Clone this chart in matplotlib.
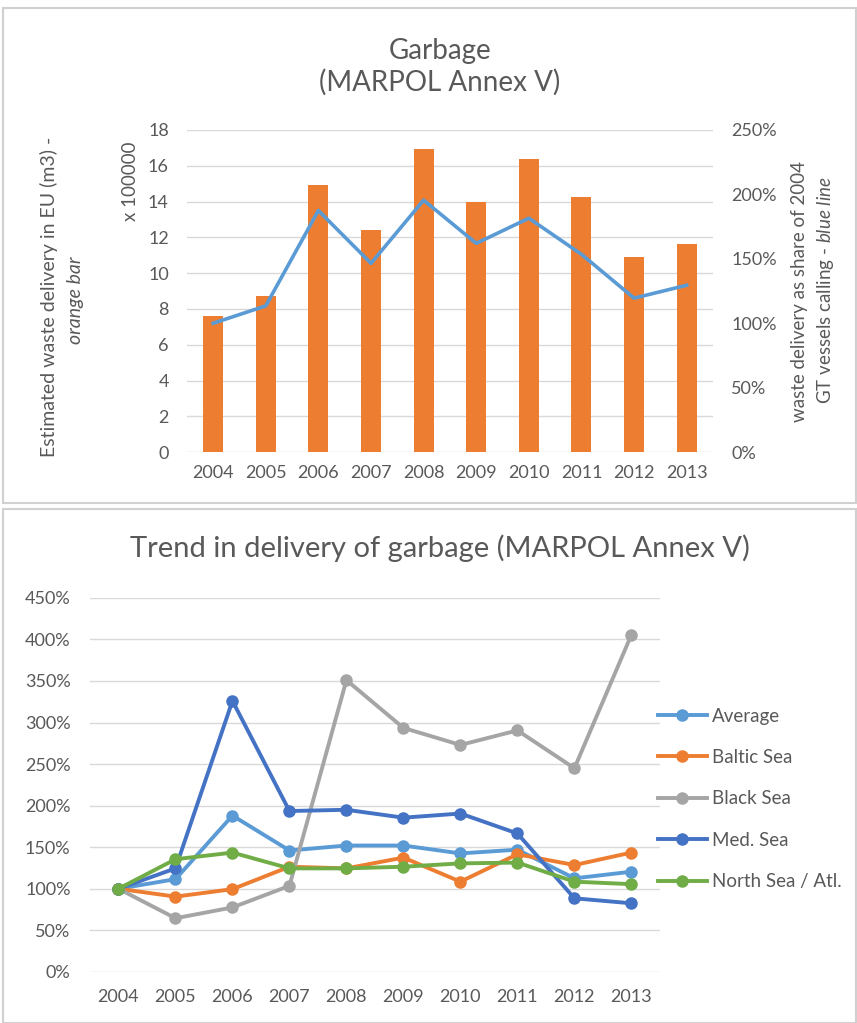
import matplotlib.pyplot as plt
from matplotlib.patches import Rectangle
import numpy as np

plt.rcParams['font.family'] = ['Lato', 'DejaVu Sans']
plt.rcParams['mathtext.fontset'] = 'custom'
plt.rcParams['mathtext.rm'] = 'Lato'
plt.rcParams['mathtext.it'] = 'Lato:italic'

years = ['2004', '2005', '2006', '2007', '2008', '2009', '2010', '2011', '2012', '2013']

# top chart: delivery (x 100000 m3) and share of 2004 per GT calling
delivery = [7.6, 8.7, 14.95, 12.4, 16.95, 14.0, 16.35, 14.25, 10.9, 11.6]
share_gt = [100, 113.5, 187.5, 146.5, 195.5, 162, 181.5, 153.5, 119.5, 129.5]

# bottom chart: trend per sea region (% of 2004)
average = [100, 111.5, 188, 146, 152, 152, 142.5, 147, 112.5, 120.5]
baltic = [100, 90.5, 99.5, 126.5, 124.5, 137.5, 108.5, 141.5, 128.5, 143.5]
black = [100, 64.5, 77.5, 103.5, 351, 293.5, 273, 290.5, 245, 405.5]
med = [100, 124.5, 326, 193.5, 195, 185.5, 190.5, 166.5, 88.5, 82.5]
north = [100, 135.5, 143.5, 124.5, 124.5, 126.5, 130.5, 131.5, 108.5, 105.5]

orange = '#ED7D31'
blue = '#5B9BD5'
gray = '#A5A5A5'
dblue = '#4472C4'
green = '#70AD47'
txt = '#595959'
grid = '#D9D9D9'

W, H = 857, 1023
fig = plt.figure(figsize=(8.57, 10.23), dpi=100)

def fx(px):
    return px / W

def fy(py):
    return 1 - py / H

# panel borders
fig.patches.append(Rectangle((fx(3), fy(503)), fx(853), 495/H, transform=fig.transFigure,
                             fill=False, edgecolor='#D0D0D0', lw=1.5))
fig.patches.append(Rectangle((fx(3), 0.0), fx(853), fy(509), transform=fig.transFigure,
                             fill=False, edgecolor='#D0D0D0', lw=1.5))

x = np.arange(len(years))

# ---- top chart ----
ax1 = fig.add_axes([0.218, 0.558, 0.614, 0.315])
ax1.bar(x, delivery, width=0.38, color=orange, zorder=2)
ax1.set_ylim(0, 18)
ax1.set_yticks(range(0, 19, 2))
ax1.set_xlim(-0.5, 9.5)
ax1.set_xticks(x)
ax1.set_xticklabels(years)
ax1.yaxis.grid(True, color=grid, lw=1)
ax1.set_axisbelow(True)

ax2 = ax1.twinx()
ax2.plot(x, share_gt, color=blue, lw=2.6, zorder=3)
ax2.set_ylim(0, 250)
ax2.set_yticks(range(0, 251, 50))
ax2.set_yticklabels(['{}%'.format(v) for v in range(0, 251, 50)])

for a in (ax1, ax2):
    for s in a.spines.values():
        s.set_visible(False)
    a.tick_params(length=0, colors=txt, labelsize=13)
ax1.tick_params(axis='x', pad=9)
ax1.tick_params(axis='y', pad=13)
ax2.tick_params(axis='y', pad=13)

fig.text(fx(440), fy(67), 'Garbage\n(MARPOL Annex V)', ha='center', va='center',
         fontsize=20, color=txt, linespacing=1.25)
fig.text(fx(49), fy(297), 'Estimated waste delivery in EU (m3) -', rotation=90,
         ha='center', va='center', fontsize=14, color=txt)
fig.text(fx(75), fy(300), 'orange bar', rotation=90, style='italic',
         ha='center', va='center', fontsize=14, color=txt)
fig.text(fx(130), fy(181), 'x 100000', rotation=90,
         ha='center', va='center', fontsize=13.5, color=txt)
fig.text(fx(800), fy(292), 'waste delivery as share of 2004', rotation=90,
         ha='center', va='center', fontsize=13.5, color=txt)
fig.text(fx(826), fy(290), r'GT vessels calling - $\mathit{blue\ line}$', rotation=90,
         ha='center', va='center', fontsize=13.5, color=txt)

# ---- bottom chart ----
ax3 = fig.add_axes([0.105, 0.050, 0.665, 0.3656])
series = [('Average', average, blue), ('Baltic Sea', baltic, orange),
          ('Black Sea', black, gray), ('Med. Sea', med, dblue),
          ('North Sea / Atl.', north, green)]
for name, vals, c in series:
    ax3.plot(x, vals, color=c, lw=2.8, marker='o', markersize=8, label=name)
ax3.set_ylim(0, 450)
ax3.set_yticks(range(0, 451, 50))
ax3.set_yticklabels(['{}%'.format(v) for v in range(0, 451, 50)])
ax3.set_xlim(-0.5, 9.5)
ax3.set_xticks(x)
ax3.set_xticklabels(years)
ax3.yaxis.grid(True, color=grid, lw=1)
ax3.set_axisbelow(True)
for s in ax3.spines.values():
    s.set_visible(False)
ax3.tick_params(length=0, colors=txt, labelsize=13)
ax3.tick_params(axis='x', pad=12)
ax3.tick_params(axis='y', pad=14)

fig.text(0.513, fy(548), 'Trend in delivery of garbage (MARPOL Annex V)', ha='center',
         va='center', fontsize=21, color=txt)

leg = ax3.legend(loc='center left', bbox_to_anchor=(0.9965, 0.4626), frameon=False,
                 fontsize=13.5, labelspacing=1.3, handlelength=2.6, handletextpad=0.3,
                 borderaxespad=0, borderpad=0)
for t in leg.get_texts():
    t.set_color(txt)

fig.savefig('out.png', dpi=100)
